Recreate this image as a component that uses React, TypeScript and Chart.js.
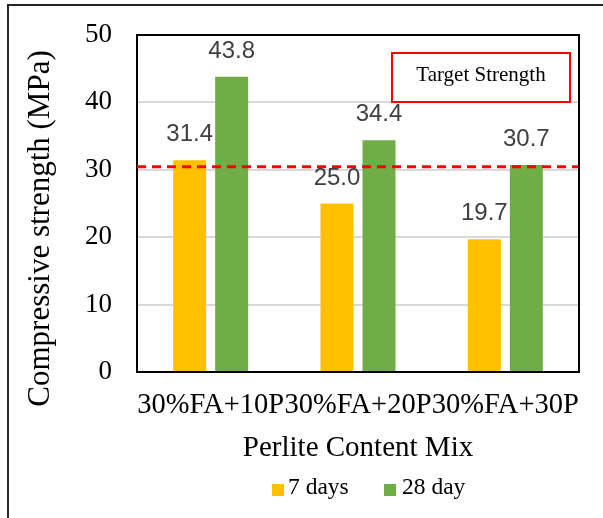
import React, { useEffect, useRef } from "react";
import { Chart, registerables } from "chart.js";

Chart.register(...registerables);

// ---- data ----
const categories = ["30%FA+10P", "30%FA+20P", "30%FA+30P"];
const seriesLabels = ["7 days", "28 day"];
const days7 = [31.4, 25.0, 19.7];
const days28 = [43.8, 34.4, 30.7];
const seriesColors = ["#FFC000", "#70AD47"];
const targetStrength = 30.45;
const targetLabel = "Target Strength";
const yMin = 0;
const yMax = 50;
const yStep = 10;
const yTitle = "Compressive strength (MPa)";
const xTitle = "Perlite Content Mix";

const SERIF = "'Liberation Serif', 'Times New Roman', serif";
const SANS = "'Liberation Sans', Arial, sans-serif";

const decor = {
  id: "decor",
  beforeDraw(chart: any) {
    const { ctx, width, height } = chart;
    ctx.save();
    ctx.fillStyle = "#ffffff";
    ctx.fillRect(0, 0, width, height);
    // outer frame (cropped at right & bottom)
    ctx.fillStyle = "#262626";
    ctx.fillRect(7, 4, width - 7, 2);
    ctx.fillRect(7, 4, 2, height - 4);
    ctx.restore();
  },
  afterDatasetsDraw(chart: any) {
    const { ctx, chartArea: a, scales } = chart;
    const y = scales.y;
    ctx.save();

    // plot frame
    ctx.strokeStyle = "#000000";
    ctx.lineWidth = 2;
    ctx.strokeRect(a.left, a.top, a.right - a.left, a.bottom - a.top);

    // target line
    const ty = y.getPixelForValue(targetStrength);
    ctx.strokeStyle = "#FF0000";
    ctx.lineWidth = 3;
    ctx.setLineDash([9, 6]);
    ctx.beginPath();
    ctx.moveTo(a.left, ty);
    ctx.lineTo(a.right - 1, ty);
    ctx.stroke();
    ctx.setLineDash([]);

    // data labels
    ctx.fillStyle = "#404040";
    ctx.font = `24px ${SANS}`;
    ctx.textAlign = "center";
    ctx.textBaseline = "alphabetic";
    chart.data.datasets.forEach((ds: any, i: number) => {
      const meta = chart.getDatasetMeta(i);
      meta.data.forEach((bar: any, j: number) => {
        ctx.fillText(Number(ds.data[j]).toFixed(1), bar.x, bar.y - 19);
      });
    });

    // target legend box
    const bw = 178;
    const bh = 49;
    const bx = a.right - 9 - bw;
    const by = a.top + 18;
    ctx.fillStyle = "#ffffff";
    ctx.fillRect(bx, by, bw, bh);
    ctx.strokeStyle = "#FF0000";
    ctx.lineWidth = 2;
    ctx.strokeRect(bx, by, bw, bh);
    ctx.fillStyle = "#000000";
    ctx.font = `21px ${SERIF}`;
    ctx.textAlign = "center";
    ctx.textBaseline = "middle";
    ctx.fillText(targetLabel, bx + bw / 2, by + bh / 2 - 2);

    // y axis title
    ctx.save();
    ctx.translate(49, 228.5);
    ctx.rotate(-Math.PI / 2);
    ctx.font = `31px ${SERIF}`;
    ctx.textAlign = "center";
    ctx.textBaseline = "alphabetic";
    ctx.fillText(yTitle, 0, 0);
    ctx.restore();

    // bottom legend
    ctx.font = `23.5px ${SERIF}`;
    ctx.textAlign = "left";
    ctx.textBaseline = "alphabetic";
    const legendX = [272, 384];
    chart.data.datasets.forEach((ds: any, i: number) => {
      ctx.fillStyle = ds.backgroundColor;
      ctx.fillRect(legendX[i], 484, 12, 12);
      ctx.fillStyle = "#000000";
      ctx.fillText(ds.label, legendX[i] + 16 + (i === 1 ? 2 : 0), 494);
    });

    ctx.restore();
  },
};

export default function App() {
  const ref = useRef<HTMLCanvasElement | null>(null);

  useEffect(() => {
    if (!ref.current) return;
    const chart = new Chart(ref.current, {
      type: "bar",
      data: {
        labels: categories,
        datasets: [
          {
            label: seriesLabels[0],
            data: days7,
            backgroundColor: seriesColors[0],
            borderWidth: 0,
            categoryPercentage: 0.57,
            barPercentage: 0.786,
          },
          {
            label: seriesLabels[1],
            data: days28,
            backgroundColor: seriesColors[1],
            borderWidth: 0,
            categoryPercentage: 0.57,
            barPercentage: 0.786,
          },
        ],
      },
      options: {
        animation: false,
        responsive: false,
        devicePixelRatio: 1,
        layout: { padding: { left: 0, right: 24, top: 35, bottom: 52.6 } },
        plugins: {
          legend: { display: false },
          tooltip: { enabled: false },
        },
        scales: {
          x: {
            grid: { display: false, drawTicks: false },
            border: { display: false },
            ticks: {
              font: { family: SERIF, size: 28.5 },
              color: "#000000",
              padding: 16,
              autoSkip: false,
              maxRotation: 0,
              minRotation: 0,
            },
            title: {
              display: true,
              text: xTitle,
              font: { family: SERIF, size: 29 },
              color: "#000000",
              padding: 0,
            },
            afterFit(s: any) {
              s.height = 93.4;
            },
          },
          y: {
            min: yMin,
            max: yMax,
            grid: { color: "#D9D9D9", lineWidth: 2, drawTicks: false },
            border: { display: false },
            ticks: {
              stepSize: yStep,
              font: { family: SERIF, size: 27 },
              color: "#000000",
              padding: 25,
            },
            afterFit(s: any) {
              s.width = 137;
              s.paddingTop = 16;
              s.paddingBottom = 16;
            },
          },
        },
      },
      plugins: [decor],
    });
    return () => chart.destroy();
  }, []);

  return (
    <div style={{ position: "absolute", left: 0, top: 0, width: 603, height: 518 }}>
      <canvas ref={ref} width={603} height={518} style={{ display: "block" }} />
    </div>
  );
}
